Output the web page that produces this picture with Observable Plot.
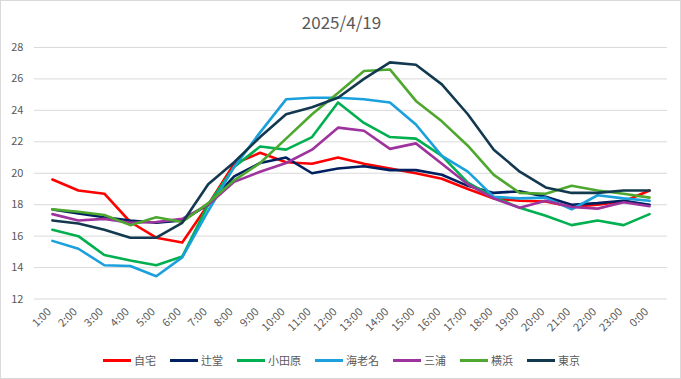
<!DOCTYPE html>
<html>
<head>
<meta charset="utf-8">
<script src="https://cdn.jsdelivr.net/npm/d3@7"></script>
<script src="https://cdn.jsdelivr.net/npm/@observablehq/plot@0.6"></script>
<style>
  html, body { margin: 0; padding: 0; background: #fff; }
  #chart { position: relative; width: 681px; height: 379px; box-sizing: border-box; border: 1px solid #d9d9d9; background: #fff; overflow: hidden; font-family: "Noto Sans CJK JP", "Noto Sans", sans-serif; }
  #title { position: absolute; left: 0; width: 681px; top: 9px; text-align: center; font-size: 17px; color: #595959; line-height: 24px; }
  #plot { position: absolute; left: -1px; top: -1px; }
  #legend { position: absolute; left: 0; width: 681px; top: 350px; display: flex; justify-content: center; font-size: 11px; color: #595959; line-height: 18px; }
  .item { display: flex; align-items: center; margin: 0 7px; }
  .sw { width: 28px; height: 3px; margin-right: 3px; }
</style>
</head>
<body>
<div id="chart">
  <div id="title"></div>
  <div id="plot"></div>
  <div id="legend"></div>
</div>
<script>
const title = "2025/4/19";
const hours = ["1:00","2:00","3:00","4:00","5:00","6:00","7:00","8:00","9:00","10:00","11:00","12:00","13:00","14:00","15:00","16:00","17:00","18:00","19:00","20:00","21:00","22:00","23:00","0:00"];
const yTicks = [12,14,16,18,20,22,24,26,28];
const seriesNames = ["自宅","辻堂","小田原","海老名","三浦","横浜","東京"];
const seriesColors = ["#ff0000","#002060","#00b050","#1aa0dc","#9e339e","#4ea72e","#12394f"];

const jitaku   = [19.6,18.9,18.7,16.9,15.9,15.6,18.0,20.6,21.3,20.7,20.6,21.0,20.6,20.3,20.0,19.65,19.0,18.4,18.25,18.2,17.85,18.0,18.2,18.9];
const tsujido  = [17.7,17.45,17.2,17.0,16.85,17.0,18.0,19.8,20.65,21.0,20.0,20.3,20.45,20.2,20.2,19.9,19.2,18.75,18.85,18.5,18.0,18.1,18.25,18.0];
const odawara  = [16.4,16.0,14.8,14.45,14.15,14.7,18.0,20.4,21.7,21.5,22.3,24.5,23.2,22.3,22.2,21.1,19.4,18.5,17.8,17.3,16.7,17.0,16.7,17.4];
const ebina    = [15.7,15.2,14.15,14.1,13.45,14.65,17.6,20.4,22.6,24.7,24.8,24.8,24.7,24.5,23.1,21.1,20.1,18.5,18.4,18.45,17.7,18.6,18.4,18.25];
const miura    = [17.4,17.0,17.1,16.85,16.9,17.1,18.0,19.45,20.1,20.65,21.5,22.9,22.7,21.55,21.9,20.6,19.3,18.4,17.8,18.25,17.85,17.75,18.15,17.9];
const yokohama = [17.7,17.55,17.35,16.7,17.2,16.9,18.1,19.55,20.65,22.2,23.75,25.1,26.5,26.6,24.6,23.3,21.75,19.9,18.75,18.7,19.2,18.9,18.7,18.45];
const tokyo    = [17.0,16.8,16.4,15.9,15.9,16.85,19.3,20.7,22.3,23.75,24.2,24.8,26.0,27.05,26.9,25.65,23.75,21.5,20.1,19.1,18.75,18.75,18.9,18.9];

const allSeries = [jitaku, tsujido, odawara, ebina, miura, yokohama, tokyo];
const rows = [];
allSeries.forEach((vals, si) => vals.forEach((v, i) => rows.push({series: seriesNames[si], hour: hours[i], value: v})));

document.getElementById("title").textContent = title;

const plot = Plot.plot({
  width: 681,
  height: 340,
  marginTop: 47,
  marginBottom: 41,
  marginLeft: 34,
  marginRight: 13,
  style: {fontFamily: "'Noto Sans CJK JP', 'Noto Sans', sans-serif", fontSize: "11px", color: "#595959", background: "transparent"},
  x: {type: "point", domain: hours, padding: 0.5},
  y: {domain: [12, 28]},
  color: {domain: seriesNames, range: seriesColors},
  marks: [
    Plot.ruleY(yTicks, {stroke: "#d9d9d9", strokeWidth: 1}),
    Plot.axisY({ticks: yTicks, tickSize: 0, tickPadding: 11, label: null, fill: "#595959", fontSize: 11}),
    Plot.axisX({tickSize: 0, tickPadding: 11, tickRotate: -45, label: null, fill: "#595959", fontSize: 11, dx: -3}),
    Plot.line(rows, {x: "hour", y: "value", z: "series", stroke: "series", strokeWidth: 2.6, strokeLinejoin: "round", strokeLinecap: "round"})
  ]
});
document.getElementById("plot").appendChild(plot);

const legend = document.getElementById("legend");
seriesNames.forEach((name, i) => {
  const it = document.createElement("div");
  it.className = "item";
  const sw = document.createElement("div");
  sw.className = "sw";
  sw.style.background = seriesColors[i];
  const tx = document.createElement("span");
  tx.textContent = name;
  it.appendChild(sw);
  it.appendChild(tx);
  legend.appendChild(it);
});
</script>
</body>
</html>
